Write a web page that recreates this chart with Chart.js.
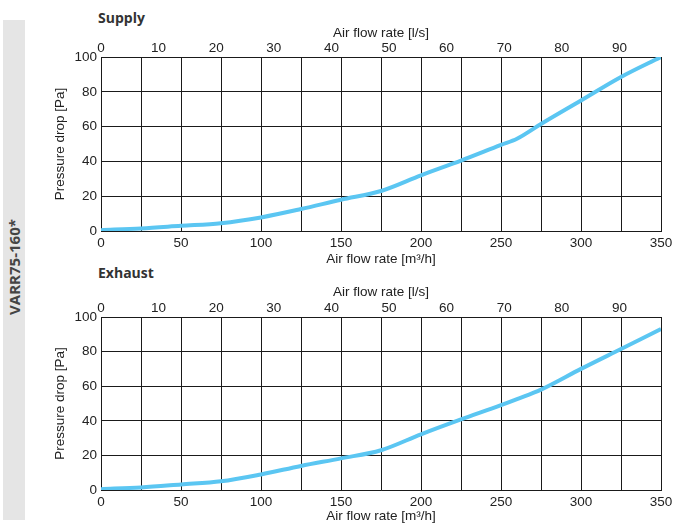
<!DOCTYPE html>
<html>
<head>
<meta charset="utf-8">
<script src="https://cdn.jsdelivr.net/npm/chart.js@4"></script>
<style>
  html, body { margin: 0; padding: 0; background: #fff; }
  #page { position: relative; width: 673px; height: 524px; overflow: hidden; }
  .side { position: absolute; left: 3px; top: 20px; width: 22px; height: 500px; background: #e5e5e5; }
  .side span {
    position: absolute; left: 50%; top: 247px; transform: translate(-50%, -50%) rotate(-90deg);
    font: bold 15px "Open Sans", sans-serif; color: #444; white-space: nowrap;
  }
  .heading { position: absolute; left: 98px; font: bold 14px "Open Sans", sans-serif; color: #333; }
  canvas { position: absolute; left: 0; }
</style>
</head>
<body>
<div id="page">
  <div class="side"><span>VARR75-160*</span></div>
  <div class="heading" style="top: 8px;">Supply</div>
  <div class="heading" style="top: 263px;">Exhaust</div>
  <canvas id="chart-supply" style="top: 0px;" width="673" height="270"></canvas>
  <canvas id="chart-exhaust" style="top: 259px;" width="673" height="265"></canvas>
</div>
<script>
// air flow in m3/h, pressure drop in Pa
const flowM3h = [0, 25, 50, 75, 100, 125, 150, 175, 200, 225, 250, 260, 275, 300, 325, 350];
const supplyPa = [0.5, 1.5, 3, 4.5, 7.8, 12.6, 18, 23, 32, 40.5, 49.5, 53, 61.5, 75, 88.5, 100];
const exhaustPa = [0.5, 1.5, 3.2, 5, 9, 13.9, 18.3, 23, 32.2, 40.8, 49, 52.5, 58, 70, 81.5, 93];

const FLOW_MAX = 350;
const PA_MAX = 100;
const LINE_COLOR = "#5bc6f2";
const GRID_COLOR = "#1a1a1a";
const TEXT_COLOR = "#222";
const tickFont = { family: "'Liberation Sans', Arial, sans-serif", size: 13.5 };

function makeChart(canvasId, values, topHeight, bottomHeight, bottomTitlePad) {
  const points = flowM3h.map((x, i) => ({ x, y: values[i] }));
  return new Chart(document.getElementById(canvasId), {
    type: "line",
    data: {
      datasets: [{
        data: points,
        borderColor: LINE_COLOR,
        borderWidth: 4,
        pointRadius: 0,
        cubicInterpolationMode: "monotone",
        xAxisID: "x",
        yAxisID: "y",
      }],
    },
    options: {
      responsive: false,
      animation: false,
      layout: { padding: { left: 0, right: 12, top: 0, bottom: 0 } },
      plugins: { legend: { display: false }, tooltip: { enabled: false } },
      scales: {
        x: {
          type: "linear",
          position: "bottom",
          min: 0,
          max: FLOW_MAX,
          border: { color: GRID_COLOR, width: 1 },
          grid: { color: GRID_COLOR, drawTicks: false },
          ticks: {
            stepSize: 25,
            padding: 4,
            maxRotation: 0,
            color: TEXT_COLOR,
            font: tickFont,
            callback: (v) => (v % 50 === 0 ? String(v) : ""),
          },
          title: {
            display: true,
            text: "Air flow rate [m³/h]",
            color: TEXT_COLOR,
            font: tickFont,
            padding: { top: 0, bottom: bottomTitlePad },
          },
          afterFit: (scale) => {
            scale.height = bottomHeight;
            scale.paddingRight = 0;
          },
        },
        x2: {
          type: "linear",
          position: "top",
          min: 0,
          max: FLOW_MAX / 3.6,
          border: { color: GRID_COLOR, width: 1 },
          grid: { drawOnChartArea: false, drawTicks: false },
          ticks: {
            stepSize: 10,
            includeBounds: false,
            padding: 1,
            maxRotation: 0,
            color: TEXT_COLOR,
            font: tickFont,
          },
          title: {
            display: true,
            text: "Air flow rate [l/s]",
            color: TEXT_COLOR,
            font: tickFont,
            padding: { top: 25, bottom: 0 },
          },
          afterFit: (scale) => {
            scale.height = topHeight;
            scale.paddingRight = 0;
          },
        },
        y: {
          type: "linear",
          position: "left",
          min: 0,
          max: PA_MAX,
          border: { color: GRID_COLOR, width: 1 },
          grid: { color: GRID_COLOR, drawTicks: false },
          ticks: {
            stepSize: 10,
            padding: 4,
            color: TEXT_COLOR,
            font: tickFont,
            callback: (v) => (v % 20 === 0 ? String(v) : ""),
          },
          title: {
            display: true,
            text: "Pressure drop [Pa]",
            color: TEXT_COLOR,
            font: tickFont,
            padding: { top: 52, bottom: 0 },
          },
          afterFit: (scale) => { scale.width = 101; },
        },
      },
    },
  });
}

makeChart("chart-supply", supplyPa, 57, 39, 3);
makeChart("chart-exhaust", exhaustPa, 58, 34, 0);
</script>
</body>
</html>
